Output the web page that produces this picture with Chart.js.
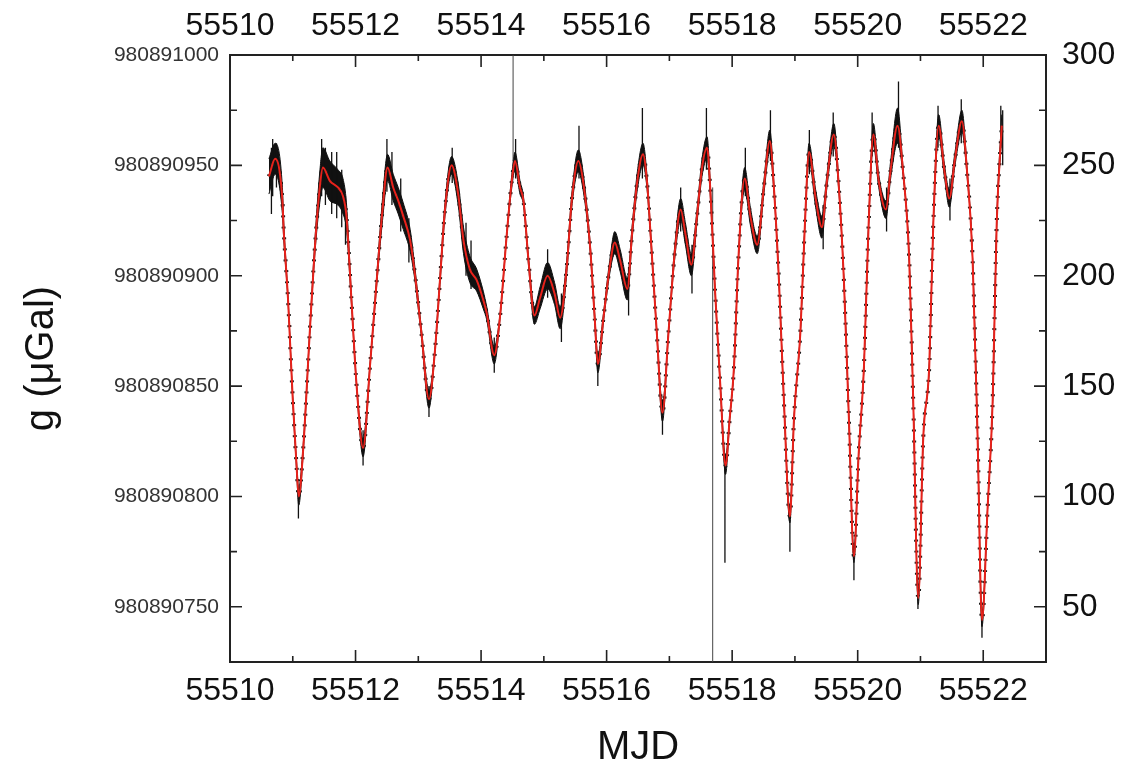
<!DOCTYPE html>
<html>
<head>
<meta charset="utf-8">
<script src="https://cdn.jsdelivr.net/npm/chart.js@4.4.1/dist/chart.umd.min.js"></script>
<style>
  html, body { margin: 0; padding: 0; background: #fff; }
  #wrap { width: 1130px; height: 768px; }
</style>
</head>
<body>
<div id="wrap"><canvas id="chart" width="1130" height="768"></canvas></div>
<script>
// fitted tide curve, values in µGal above 980890700 (right axis)
const mjd = [
  55510.62, 55510.72, 55510.835, 55510.855, 55510.925, 55511.00, 55511.06, 55511.095, 55511.165, 55511.27,
  55511.35, 55511.43, 55511.48, 55511.59, 55511.72, 55511.80, 55511.855, 55511.935, 55512.015, 55512.12,
  55512.23, 55512.335, 55512.43, 55512.51, 55512.60, 55512.68, 55512.76, 55512.87, 55512.945, 55513.05,
  55513.17, 55513.265, 55513.345, 55513.425, 55513.53, 55513.635, 55513.72, 55513.82, 55513.93, 55514.035,
  55514.09, 55514.21, 55514.30, 55514.41, 55514.49, 55514.54, 55514.62, 55514.675, 55514.755, 55514.85,
  55514.94, 55515.06, 55515.17, 55515.26, 55515.365, 55515.445, 55515.55, 55515.63, 55515.74, 55515.81,
  55515.86, 55515.95, 55516.05, 55516.13, 55516.215, 55516.33, 55516.405, 55516.485, 55516.58, 55516.645,
  55516.70, 55516.80, 55516.89, 55516.985, 55517.09, 55517.18, 55517.255, 55517.35, 55517.44, 55517.52,
  55517.60, 55517.65, 55517.73, 55517.81, 55517.895, 55517.96, 55518.03, 55518.10, 55518.20, 55518.29,
  55518.40, 55518.505, 55518.60, 55518.665, 55518.745, 55518.825, 55518.92, 55518.985, 55519.09, 55519.16,
  55519.225, 55519.33, 55519.43, 55519.51, 55519.62, 55519.70, 55519.78, 55519.86, 55519.94, 55520.015,
  55520.10, 55520.175, 55520.25, 55520.335, 55520.45, 55520.525, 55520.635, 55520.72, 55520.82, 55520.885,
  55520.965, 55521.045, 55521.14, 55521.205, 55521.29, 55521.38, 55521.46, 55521.55, 55521.66, 55521.74,
  55521.83, 55521.91, 55521.98, 55522.07, 55522.15, 55522.215, 55522.295
];
const gFit = [
  245, 253, 234, 221, 189, 144, 114, 100, 121, 174,
  212, 240, 249, 243, 240, 236, 227, 189, 151, 122,
  159, 197, 230, 249, 240, 234, 227, 216, 201, 174,
  144, 166, 198, 230, 250, 237, 216, 203, 198, 189,
  183, 164, 181, 219, 243, 252, 240, 234, 207, 182,
  190, 200, 192, 181, 204, 234, 252, 242, 212, 181,
  160, 181, 204, 215, 207, 194, 219, 242, 255, 242,
  219, 174, 138, 174, 212, 230, 219, 205, 227, 249,
  258, 240, 192, 151, 114, 135, 159, 208, 244, 227,
  214, 240, 261, 240, 198, 143, 91, 135, 176, 224,
  256, 235, 222, 243, 264, 240, 198, 135, 73, 119,
  159, 224, 264, 243, 230, 248, 268, 248, 208, 143,
  54, 127, 159, 224, 268, 248, 235, 253, 270, 248,
  208, 127, 44, 95, 143, 224, 268
];
// half width of the black measurement scatter around the fit
const scatter = [
  8, 7, 6, 4, 1, 1, 2, 4, 2, 1,
  3, 7, 9, 9, 8, 8, 6, 2, 1, 4,
  1, 2, 5, 6, 6, 6, 6, 5, 3, 2,
  4, 1, 2, 3, 4, 5, 6, 6, 5, 4,
  3, 4, 1, 1, 3, 4, 3, 2, 2, 4,
  5, 6, 5, 5, 3, 3, 5, 4, 2, 2,
  4, 2, 3, 5, 5, 5, 3, 4, 5, 3,
  2, 1, 4, 1, 3, 5, 5, 5, 3, 4,
  5, 3, 1, 1, 4, 1, 0, 1, 5, 4,
  4, 3, 5, 2, 0, 0, 3, 0, 0, 1,
  4, 4, 5, 3, 5, 2, 0, 0, 3, 0,
  0, 1, 5, 3, 4, 4, 8, 2, 0, 0,
  3, 0, 0, 1, 5, 3, 4, 3, 5, 2,
  0, 0, 3, 0, 0, 1, 5
];
// individual noisy samples sticking out of the scatter band
const spikeX = [
  55510.66, 55510.68, 55510.74, 55511.09, 55511.46, 55511.52, 55511.62, 55511.70, 55511.78, 55511.84,
  55512.12, 55512.50, 55512.58, 55512.72, 55512.85, 55513.17, 55513.54, 55513.76, 55513.84, 55514.21,
  55514.55, 55515.06, 55515.28, 55515.56, 55515.86, 55516.35, 55516.57, 55516.89, 55517.18, 55517.36,
  55517.59, 55517.885, 55518.21, 55518.61, 55518.92, 55519.23, 55519.45, 55519.61, 55519.94, 55520.23,
  55520.46, 55520.65, 55520.96, 55521.28, 55521.47, 55521.65, 55521.98, 55522.28, 55522.31
];
const spikeLo = [
  228, 236, 240, 90, 236, 232, 228, 226, 222, 214,
  114, 238, 232, 220, 206, 136, 242, 200, 194, 156,
  244, 190, 170, 244, 150, 182, 244, 128, 220, 192,
  248, 70, 236, 252, 75, 246, 212, 254, 62, 254,
  220, 258, 49, 258, 225, 260, 36, 258, 250
];
const spikeHi = [
  258, 262, 260, 104, 262, 258, 256, 256, 248, 236,
  130, 262, 256, 244, 226, 150, 258, 224, 216, 172,
  262, 212, 192, 268, 166, 204, 276, 144, 240, 214,
  276, 118, 258, 275, 96, 266, 232, 274, 76, 274,
  240, 288, 58, 277, 244, 280, 48, 277, 275
];
// two instrument glitches drawn as thin vertical lines
const glitchX = [55514.51, 55517.69];
const glitchLo = [252, 25];
const glitchHi = [300, 240];

const xTicks = [55510, 55512, 55514, 55516, 55518, 55520, 55522];
const gTicks = [980890750, 980890800, 980890850, 980890900, 980890950, 980891000];
const rTicks = [50, 100, 150, 200, 250, 300];

const family = '"Liberation Sans", Arial, sans-serif';

const fit = mjd.map((x, i) => ({ x, y: gFit[i] }));
const bandHi = mjd.map((x, i) => ({ x, y: gFit[i] + scatter[i] }));
const bandLo = mjd.map((x, i) => ({ x, y: gFit[i] - scatter[i] }));
const spikes = [];
spikeX.forEach((x, i) => {
  spikes.push({ x, y: spikeLo[i] }, { x, y: spikeHi[i] }, { x, y: null });
});
const glitches = [];
glitchX.forEach((x, i) => {
  glitches.push({ x, y: glitchLo[i] }, { x, y: glitchHi[i] }, { x, y: null });
});

const innerTicks = {
  id: "innerTicks",
  afterDraw(chart) {
    const { ctx, chartArea: a, scales } = chart;
    ctx.save();
    ctx.strokeStyle = "#222";
    ctx.lineWidth = 1.6;
    ctx.beginPath();
    for (let d = 55510; d <= 55523; d++) {
      const px = scales.x.getPixelForValue(d);
      const len = d % 2 === 0 ? 12 : 6;
      ctx.moveTo(px, a.bottom); ctx.lineTo(px, a.bottom - len);
      ctx.moveTo(px, a.top); ctx.lineTo(px, a.top + len);
    }
    for (let v = 25; v <= 300; v += 25) {
      const py = scales.yR.getPixelForValue(v);
      const len = v % 50 === 0 ? 12 : 7;
      ctx.moveTo(a.left, py); ctx.lineTo(a.left + len, py);
      ctx.moveTo(a.right, py); ctx.lineTo(a.right - len, py);
    }
    ctx.stroke();
    ctx.restore();
  }
};

const noPad = s => { s.paddingLeft = s.paddingRight = s.paddingTop = s.paddingBottom = 0; };

const lineBase = { pointRadius: 0, xAxisID: "x", yAxisID: "yR" };

new Chart(document.getElementById("chart"), {
  type: "line",
  data: {
    datasets: [
      { ...lineBase, label: "fit", data: fit, borderColor: "#e8221b", borderWidth: 2,
        cubicInterpolationMode: "monotone", order: 0 },
      { ...lineBase, label: "samples", data: fit, borderColor: "#1a1a1a", borderWidth: 4,
        borderDash: [2, 9], cubicInterpolationMode: "monotone", order: 1 },
      { ...lineBase, label: "spikes", data: spikes, borderColor: "#111", borderWidth: 1.3,
        tension: 0, spanGaps: false, order: 2 },
      { ...lineBase, label: "glitch", data: glitches, borderColor: "#444", borderWidth: 1,
        tension: 0, spanGaps: false, order: 3 },
      { ...lineBase, label: "hi", data: bandHi, borderColor: "#111", borderWidth: 1,
        backgroundColor: "#111", fill: "+1", cubicInterpolationMode: "monotone", order: 4 },
      { ...lineBase, label: "lo", data: bandLo, borderColor: "#111", borderWidth: 1,
        cubicInterpolationMode: "monotone", order: 5 }
    ]
  },
  options: {
    responsive: false,
    animation: false,
    events: [],
    layout: { padding: 0 },
    plugins: { legend: { display: false }, tooltip: { enabled: false } },
    scales: {
      x: {
        type: "linear", position: "bottom", min: 55510, max: 55523, offset: false,
        grid: { color: "transparent", tickLength: 6 },
        border: { color: "#222", width: 2 },
        ticks: { font: { family, size: 32 }, color: "#111", padding: 4, maxRotation: 0, autoSkip: false,
          callback: v => String(v) },
        afterBuildTicks: s => { s.ticks = xTicks.map(v => ({ value: v })); },
        afterFit: s => { s.height = 106; noPad(s); },
        title: { display: true, text: "MJD", font: { family, size: 40, lineHeight: 1 }, color: "#111",
          padding: { top: 0, bottom: 0 } }
      },
      x2: {
        type: "linear", position: "top", min: 55510, max: 55523, offset: false,
        grid: { color: "transparent", tickLength: 6 },
        border: { color: "#222", width: 2 },
        ticks: { font: { family, size: 32 }, color: "#111", padding: 4, maxRotation: 0, autoSkip: false,
          callback: v => String(v) },
        afterBuildTicks: s => { s.ticks = xTicks.map(v => ({ value: v })); },
        afterFit: s => { s.height = 55; noPad(s); }
      },
      y: {
        type: "linear", position: "left", min: 980890725, max: 980891000,
        grid: { color: "transparent", tickLength: 6 },
        border: { color: "#222", width: 2 },
        ticks: { font: { family, size: 21 }, color: "#333", padding: 5, callback: v => String(v) },
        afterBuildTicks: s => { s.ticks = gTicks.map(v => ({ value: v })); },
        afterFit: s => { s.width = 230; noPad(s); },
        title: { display: true, text: "g (μGal)", font: { family, size: 40 }, color: "#111", padding: { top: 18 } }
      },
      yR: {
        type: "linear", position: "right", min: 25, max: 300,
        grid: { color: "transparent", tickLength: 8 },
        border: { color: "#222", width: 2 },
        ticks: { font: { family, size: 32 }, color: "#111", padding: 8, callback: v => String(v) },
        afterBuildTicks: s => { s.ticks = rTicks.map(v => ({ value: v })); },
        afterFit: s => { s.width = 84; noPad(s); }
      }
    }
  },
  plugins: [innerTicks]
});
</script>
</body>
</html>
